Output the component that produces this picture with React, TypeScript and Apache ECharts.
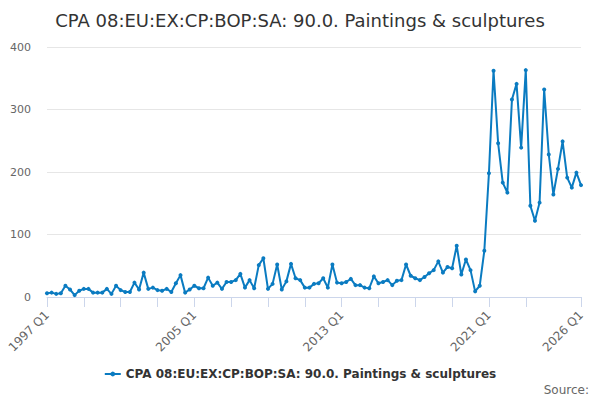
import React, { useEffect, useRef } from "react";
import * as echarts from "echarts";

const TITLE = "CPA 08:EU:EX:CP:BOP:SA: 90.0. Paintings & sculptures";
const START_YEAR = 1997;
const END_YEAR = 2026;

const categories: string[] = [];
for (let y = START_YEAR; y <= END_YEAR; y++) {
  for (let q = 1; q <= 4; q++) {
    if (y === END_YEAR && q > 1) break;
    categories.push(`${y} Q${q}`);
  }
}

const values1997to2006 = [
  6, 7, 5, 6, 18, 12, 3, 10, 13, 13, 7, 7, 7, 13, 5, 18, 11, 8, 8, 23,
  12, 39, 13, 15, 11, 10, 13, 8, 22, 35, 7, 12, 18, 14, 14, 31, 18, 23, 13, 24,
];
const values2007to2016 = [
  24, 27, 37, 15, 27, 14, 51, 62, 13, 21, 52, 12, 25, 53, 30, 27, 15, 15, 21, 22,
  30, 15, 52, 23, 22, 24, 29, 19, 19, 15, 14, 33, 22, 24, 27, 19, 26, 27, 52, 34,
];
const values2017to2026 = [
  30, 27, 32, 38, 43, 57, 39, 48, 46, 82, 36, 60, 43, 9, 18, 74, 198, 362, 246, 183,
  167, 316, 341, 239, 363, 146, 122, 151, 332, 228, 164, 205, 249, 191, 175, 199, 179,
];
const seriesValues = [...values1997to2006, ...values2007to2016, ...values2017to2026];

const yTicks = [0, 100, 200, 300, 400];
const labelledCategories = ["1997 Q1", "2005 Q1", "2013 Q1", "2021 Q1", "2026 Q1"];

export default function App() {
  const ref = useRef<HTMLDivElement>(null);
  useEffect(() => {
    document.body.style.margin = "0";
    if (!ref.current) return;
    const chart = echarts.init(ref.current, undefined, { renderer: "svg" });
    const last = categories.length - 1;
    chart.setOption({
      animation: false,
      textStyle: { fontFamily: "DejaVu Sans" },
      title: {
        text: TITLE,
        left: "center",
        top: 6,
        textStyle: { fontSize: 18, fontWeight: "normal", color: "#333333", fontFamily: "DejaVu Sans" },
      },
      grid: { left: 47, right: 19, top: 47, bottom: 103 },
      xAxis: {
        type: "category",
        data: categories,
        boundaryGap: false,
        axisLine: { lineStyle: { color: "#ccd6eb" } },
        axisTick: {
          length: 10,
          lineStyle: { color: "#ccd6eb" },
          interval: (i: number) => (i % 8 === 0 && i !== 112) || i === last,
        },
        axisLabel: {
          rotate: 45,
          margin: 16,
          fontSize: 12,
          color: "#666666",
          interval: (i: number, v: string) => labelledCategories.includes(v),
        },
        splitLine: { show: false },
      },
      yAxis: {
        type: "value",
        min: yTicks[0],
        max: yTicks[yTicks.length - 1],
        interval: 100,
        axisLine: { show: false },
        axisTick: { show: false },
        axisLabel: { fontSize: 11, color: "#666666", margin: 16 },
        splitLine: { lineStyle: { color: "#e6e6e6" } },
      },
      legend: {
        bottom: 15,
        left: "center",
        itemWidth: 16,
        itemHeight: 6,
        textStyle: { fontSize: 12, fontWeight: "bold", color: "#333333" },
        data: [TITLE],
      },
      graphic: [
        {
          type: "text",
          right: 11,
          bottom: 4,
          style: { text: "Source:", fontSize: 12, fill: "#666666", fontFamily: "DejaVu Sans" },
        },
      ],
      series: [
        {
          name: TITLE,
          type: "line",
          data: seriesValues,
          symbol: "circle",
          symbolSize: 4,
          showSymbol: true,
          showAllSymbol: true,
          lineStyle: { width: 2, color: "#0a7bc1" },
          itemStyle: { color: "#0a7bc1" },
        },
      ],
    });
    return () => chart.dispose();
  }, []);
  return <div ref={ref} style={{ width: 600, height: 400 }} />;
}
